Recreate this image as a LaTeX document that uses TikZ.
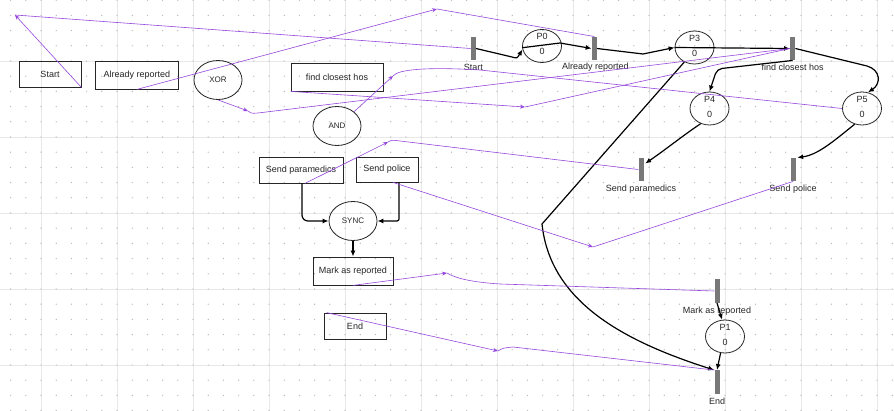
\documentclass[tikz,border=0pt]{standalone}
\usepackage{fontspec}
\setmainfont{Liberation Sans}
\usetikzlibrary{shapes.geometric,arrows.meta,calc}
\definecolor{mapc}{RGB}{150,72,222}
\definecolor{transc}{RGB}{120,120,120}
\definecolor{dotc}{RGB}{185,185,185}
\definecolor{gridc}{RGB}{232,232,232}
\begin{document}
\begin{tikzpicture}[x=1pt,y=-1pt,
  font=\fontsize{9}{10}\selectfont,
  box/.style={draw=black!85,line width=0.8pt,rectangle,inner sep=0pt,text=black!85},
  gate/.style={draw=black!85,line width=0.8pt,ellipse,minimum width=48pt,minimum height=39pt,inner sep=0pt,text=black!85,font=\fontsize{8}{10}\selectfont},
  place/.style={draw=black!85,line width=0.8pt,ellipse,minimum width=39pt,minimum height=33pt,inner sep=0pt},
  trans/.style={fill=transc,rectangle,minimum width=5pt,minimum height=23.5pt,inner sep=0pt},
  lbl/.style={inner sep=0pt,text=black!85},
  arc/.style={line width=1.2pt,-{Latex[length=6pt,width=5pt]}},
  map/.style={mapc,line width=0.6pt},
  maparr/.style={map,-{Stealth[length=5pt,width=4pt]}}]

% canvas
\fill[white] (0,0) rectangle (894,411);
\useasboundingbox (0,0) rectangle (894,411);
\foreach \gx in {41,117,...,877} \draw[gridc,line width=0.6pt] (\gx,0) -- (\gx,411);
\foreach \gy in {61,137,...,365} \draw[gridc,line width=0.6pt] (0,\gy) -- (894,\gy);
\foreach \i in {0,...,58} \foreach \j in {0,...,27} \fill[dotc] (10.6+15.2*\i,0.2+15.2*\j) circle (0.7pt);

% workflow side
\node[box,minimum width=62pt,minimum height=26pt] (bStart) at (50,74) {Start};
\node[box,minimum width=83pt,minimum height=28pt] (bAR) at (137,75) {Already reported};
\node[gate] (xor) at (218,80) {XOR};
\node[box,minimum width=92pt,minimum height=28pt] (bFCH) at (337,77) {find closest hos};
\node[gate] (and) at (337,126) {AND};
\node[box,minimum width=84pt,minimum height=26pt] (bSP) at (301,170) {Send paramedics};
\node[box,minimum width=62pt,minimum height=25pt] (bSPol) at (387,169.5) {Send police};
\node[gate] (sync) at (353,221) {SYNC};
\node[box,minimum width=80pt,minimum height=28pt] (bMAR) at (353,271) {Mark as reported};
\node[box,minimum width=62pt,minimum height=26pt] (bEnd) at (355,326) {End};

% petri net transitions
\node[trans] (tStart) at (473.3,48.5) {};
\node[trans] (tAR) at (594.3,48.5) {};
\node[trans] (tFCH) at (792.7,48.5) {};
\node[trans] (tSP) at (641,169.5) {};
\node[trans] (tSPol) at (793,169.5) {};
\node[trans] (tMAR) at (717,291) {};
\node[trans] (tEnd) at (717,382) {};
\node[lbl] (ltStart) at ($(tStart)+(0,18.5)$) {Start};
\node[lbl] (ltAR) at ($(tAR)+(1,18.5)$) {Already reported};
\node[lbl] (ltFCH) at ($(tFCH)+(0,18.5)$) {find closest hos};
\node[lbl] (ltSP) at ($(tSP)+(0,19.5)$) {Send paramedics};
\node[lbl] (ltSPol) at ($(tSPol)+(0,19.5)$) {Send police};
\node[lbl] (ltMAR) at ($(tMAR)+(0,20)$) {Mark as reported};
\node[lbl] (ltEnd) at ($(tEnd)+(0,19)$) {End};

% places
\node[place] (p0) at (542,46) {};
\node[place] (p3) at (694.5,47.5) {};
\node[place] (p4) at (709.5,108.5) {};
\node[place] (p5) at (862,108.5) {};
\node[place] (p1) at (725,336.5) {};
\foreach \p/\n in {p0/P0,p3/P3,p4/P4,p5/P5,p1/P1}{
  \node[lbl] (\p n) at ($(\p)+(0,-9.5)$) {\n};
  \node[lbl] (\p v) at ($(\p)+(0,5.5)$) {0};
}

% black arcs, workflow
\draw[arc,rounded corners=6pt] ([xshift=1pt]bSP.south) |- (sync.west);
\draw[arc,rounded corners=2pt] ([xshift=12pt]bSPol.south) |- (sync.east);
\draw[arc] (sync.south) -- (sync.south |- bMAR.north);

% black arcs, petri net
\draw[arc] (tStart.east) -- (512,57) .. controls (517,58.5) .. (p0.190);
\draw[arc] (p0.185) -- (560,43) -- (tAR.west);
\draw[arc] (tAR.east) -- (643,54) -- (p3.west);
\draw[arc] (p3.west) -- (tFCH.west);
\draw[arc,rounded corners=5pt] (tFCH.south) -- (717,69) -- (p4.north);
\draw[arc] (tFCH.east) -- (867,66) .. controls (881,70) and (881,84) .. (p5.70);
\draw[arc] (p4.240) .. controls (685,134) and (665,150) .. ($(tSP.north east)+(1.5,6)$);
\draw[arc] (p5.245) .. controls (835,140) and (818,155) .. ($(tSPol.north east)+(1.5,0)$);
\draw[arc] (p3.235) -- (542,224) .. controls (550,300) and (620,340) .. (tEnd.north west);
\draw[arc] (tMAR.south) -- (p1.100);
\draw[arc] (p1.255) -- (tEnd.north);

% purple mapping links
\coordinate (k1) at (15,15);
\coordinate (k2) at (437,9);
\coordinate (k3) at (248,111);
\coordinate (k4) at (525,107);
\coordinate (k5) at (393,76);
\coordinate (k6) at (388,142);
\coordinate (k7) at (593,247);
\coordinate (k8) at (447,273);
\coordinate (k9) at (498,351);

\draw[maparr] (bStart.south east) -- (k1);
\draw[map] (k1) -- (tStart.west);

\draw[maparr] (bAR.south) -- (k2);
\draw[map] (k2) -- (tAR.north);

\draw[maparr] (xor.south) -- (k3);
\draw[map] (k3) .. controls (251,113.5) .. (258,113) -- (tFCH.west);

\draw[maparr] (bFCH.south west) -- (k4);
\draw[map] (k4) -- (tFCH.west);

\draw[maparr] (and.40) -- (k5);
\draw[map] (k5) .. controls (398,69) and (430,67) .. (480,70) -- (p5.west);

\draw[maparr] ([xshift=4pt]bSP.south) -- (k6);
\draw[map] (k6) .. controls (392,140) .. (400,141) -- (tSP.west);

\draw[maparr] ([xshift=6pt]bSPol.south) -- (k7);
\draw[map] (k7) -- (tSPol.south);

\draw[maparr] (bMAR.south) -- (k8);
\draw[map] (k8) .. controls (455,278) and (470,282) .. (500,284) -- (tMAR.west);

\draw[maparr] ([xshift=3pt]bEnd.north west) -- (k9);
\draw[map] (k9) .. controls (503,348) .. (513,347) -- (tEnd.north west);
\end{tikzpicture}
\end{document}
